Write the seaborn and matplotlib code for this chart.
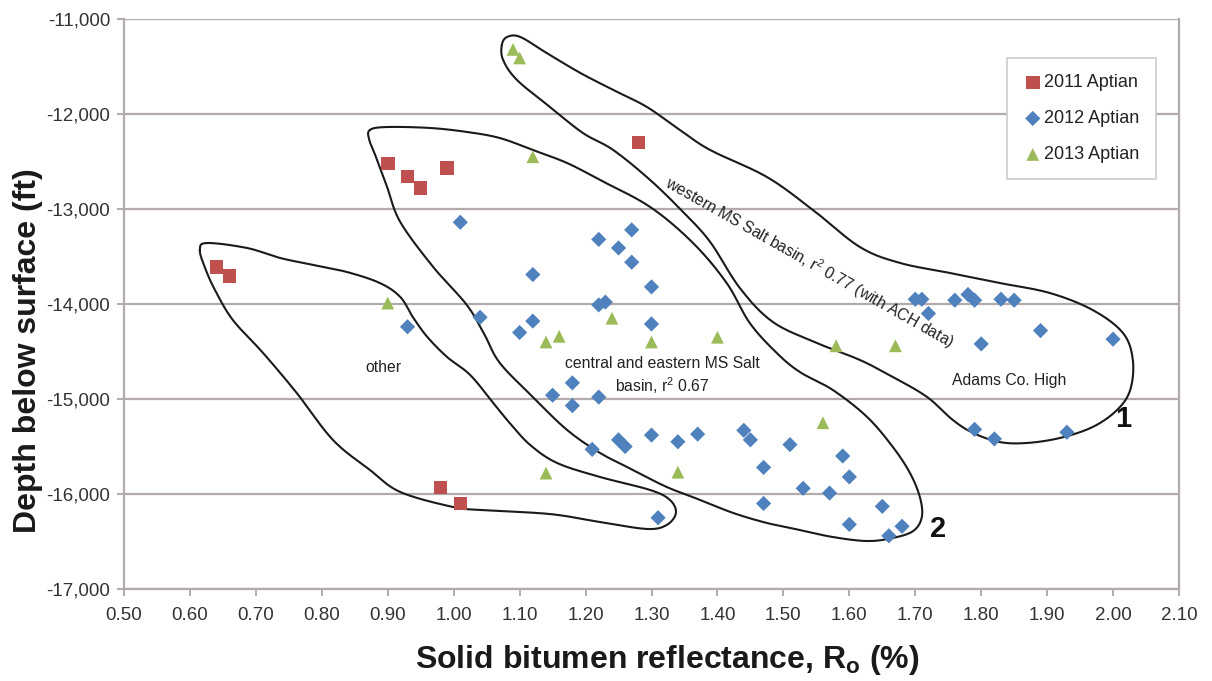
import numpy as np
import pandas as pd
import matplotlib
matplotlib.use("Agg")
import matplotlib.pyplot as plt
import seaborn as sns
from matplotlib.ticker import FuncFormatter, MultipleLocator

sns.set_theme(style="white")
plt.rcParams['font.family'] = ['Liberation Sans', 'DejaVu Sans']

# ---- data ----
r2011 = [0.64, 0.66, 0.90, 0.93, 0.95, 0.99, 1.28, 0.98, 1.01]
d2011 = [-13610, -13705, -12520, -12660, -12780, -12570, -12300, -15930, -16100]

r2012 = [1.01, 1.22, 1.27, 1.25, 1.27, 1.12, 1.30, 1.22, 1.23, 1.04, 0.93, 1.12, 1.10, 1.30,
         1.70, 1.71, 1.76, 1.78, 1.79, 1.83, 1.85, 1.72, 1.89, 1.80, 2.00,
         1.79, 1.82, 1.93, 1.59, 1.60, 1.53, 1.57, 1.65, 1.60, 1.68, 1.66,
         1.15, 1.18, 1.18, 1.22, 1.21, 1.25, 1.26, 1.30, 1.34, 1.37, 1.44, 1.45, 1.47, 1.51, 1.47, 1.31]
d2012 = [-13140, -13320, -13220, -13410, -13560, -13690, -13820, -14010, -13980, -14140, -14240, -14180, -14300, -14210,
         -13950, -13950, -13960, -13900, -13960, -13950, -13960, -14100, -14280, -14420, -14370,
         -15320, -15420, -15350, -15600, -15820, -15940, -15990, -16130, -16320, -16340, -16440,
         -14960, -14830, -15070, -14980, -15530, -15430, -15500, -15380, -15450, -15370, -15330, -15430, -15720, -15480, -16100, -16250]

r2013 = [1.09, 1.10, 1.12, 1.24, 1.14, 1.16, 1.30, 1.40, 0.90, 1.58, 1.67, 1.56, 1.14, 1.34]
d2013 = [-11320, -11410, -12450, -14150, -14400, -14340, -14400, -14350, -13990, -14440, -14440, -15250, -15780, -15770]

series_names = ["2011 Aptian", "2012 Aptian", "2013 Aptian"]
series_colors = ["#C0504D", "#4F81BD", "#9BBB59"]

# hand-drawn group outlines (data coordinates)
other_r = [0.615, 0.626, 0.687, 0.737, 0.787, 0.838, 0.888, 0.919, 0.938, 0.960, 0.990, 1.025, 1.060, 1.085,
           1.116, 1.157, 1.222, 1.298, 1.328, 1.337, 1.323, 1.293, 1.222, 1.146, 1.040, 0.999, 0.919, 0.873,
           0.817, 0.762, 0.711, 0.665, 0.638, 0.623]
other_d = [-13432, -13358, -13411, -13516, -13589, -13663, -13779, -13926, -14137, -14347, -14558, -14747, -15042, -15253,
           -15484, -15674, -15821, -15958, -16063, -16200, -16326, -16368, -16295, -16211, -16168, -16137, -15979, -15747,
           -15432, -14937, -14516, -14168, -13853, -13621]

central_r = [0.873, 0.899, 0.964, 1.020, 1.070, 1.120, 1.172, 1.222, 1.298, 1.363, 1.414, 1.449, 1.490, 1.525,
             1.575, 1.627, 1.666, 1.692, 1.707, 1.710, 1.697, 1.666, 1.627, 1.575, 1.525, 1.475, 1.424, 1.374,
             1.323, 1.272, 1.222, 1.172, 1.120, 1.070, 1.047, 1.020, 0.969, 0.919, 0.899, 0.884, 0.872]
central_d = [-12168, -12137, -12147, -12189, -12253, -12379, -12516, -12695, -12979, -13358, -13779, -14200, -14516, -14716,
             -14905, -15189, -15505, -15779, -16032, -16242, -16389, -16463, -16495, -16453, -16379, -16305, -16200, -16063,
             -15926, -15747, -15568, -15326, -14979, -14621, -14326, -14011, -13611, -13137, -12768, -12484, -12274]

western_r = [1.073, 1.081, 1.101, 1.141, 1.192, 1.242, 1.293, 1.343, 1.389, 1.475, 1.545, 1.616, 1.677, 1.753,
             1.828, 1.904, 1.969, 2.015, 2.030, 2.026, 2.006, 1.969, 1.919, 1.869, 1.828, 1.788, 1.757, 1.718,
             1.666, 1.616, 1.551, 1.484, 1.434, 1.389, 1.348, 1.298, 1.242, 1.196, 1.146, 1.096, 1.075]
western_d = [-11274, -11189, -11189, -11358, -11568, -11747, -11926, -12168, -12379, -12663, -13011, -13400, -13568, -13674,
             -13779, -13884, -14063, -14305, -14589, -14905, -15116, -15295, -15411, -15463, -15453, -15358, -15221, -14979,
             -14768, -14589, -14411, -14189, -13832, -13347, -13032, -12695, -12379, -12200, -11926, -11642, -11432]


def smooth_closed(xs, ys, n=24):
    P = np.column_stack([xs, ys]).astype(float)
    N = len(P)
    t = np.linspace(0, 1, n, endpoint=False)[:, None]
    out = []
    for i in range(N):
        p0, p1, p2, p3 = P[(i - 1) % N], P[i], P[(i + 1) % N], P[(i + 2) % N]
        pts = 0.5 * ((2 * p1) + (-p0 + p2) * t + (2 * p0 - 5 * p1 + 4 * p2 - p3) * t ** 2
                     + (-p0 + 3 * p1 - 3 * p2 + p3) * t ** 3)
        out.append(pts)
    out.append(P[:1])
    return np.vstack(out)


df = pd.concat([
    pd.DataFrame({"R": r2011, "D": d2011, "series": series_names[0]}),
    pd.DataFrame({"R": r2012, "D": d2012, "series": series_names[1]}),
    pd.DataFrame({"R": r2013, "D": d2013, "series": series_names[2]}),
], ignore_index=True)

fig = plt.figure(figsize=(12.12, 6.81), dpi=100)
ax = fig.add_axes([124 / 1212, 1 - 589 / 681, (1179 - 124) / 1212, (589 - 19) / 681])

# outlines
for xs, ys in [(other_r, other_d), (central_r, central_d), (western_r, western_d)]:
    c = smooth_closed(xs, ys)
    ax.plot(c[:, 0], c[:, 1], color="#1a1a1a", lw=1.5, zorder=2)

markers = {"2011 Aptian": "s", "2012 Aptian": "D", "2013 Aptian": "^"}
sizes = {"2011 Aptian": 95, "2012 Aptian": 60, "2013 Aptian": 85}
for name, col in zip(series_names, series_colors):
    sub = df[df["series"] == name]
    sns.scatterplot(data=sub, x="R", y="D", marker=markers[name], s=sizes[name], color=col,
                    edgecolor="none", linewidth=0, ax=ax, label=name, zorder=3)

ax.set_xlim(0.5, 2.1)
ax.set_ylim(-17000, -11000)
ax.xaxis.set_major_locator(MultipleLocator(0.1))
ax.yaxis.set_major_locator(MultipleLocator(1000))
ax.xaxis.set_major_formatter(FuncFormatter(lambda v, p: f"{v:.2f}"))
ax.yaxis.set_major_formatter(FuncFormatter(lambda v, p: f"{v:,.0f}"))

grid_c = "#b3abab"
ax.yaxis.grid(True, color=grid_c, lw=1.6, zorder=0)
ax.xaxis.grid(False)
ax.set_axisbelow(True)
for sp in ["left", "bottom", "right"]:
    ax.spines[sp].set_visible(True)
    ax.spines[sp].set_color(grid_c)
    ax.spines[sp].set_linewidth(1.6)
ax.spines["top"].set_visible(False)

ax.tick_params(axis="both", which="major", direction="out", length=5, width=1.4, color=grid_c,
               labelsize=13.5, labelcolor="#333333", left=True, bottom=True)
ax.tick_params(axis="x", pad=8)
ax.tick_params(axis="y", pad=5)

ax.set_xlabel("Solid bitumen reflectance, R$_\\mathregular{o}$ (%)", fontsize=23, fontweight="bold",
              color="#1a1a1a")
ax.set_ylabel("Depth below surface (ft)", fontsize=23, fontweight="bold", color="#1a1a1a")
ax.xaxis.set_label_coords(0.5147, -0.094)
ax.yaxis.set_label_coords(-0.077, 0.4175)

# annotations
ann = dict(fontsize=11.3, color="#222222")
ax.text(1.540, -13560, "western MS Salt basin, r$^\\mathregular{2}$ 0.77 (with ACH data)", rotation=-29.5,
        rotation_mode="anchor", ha="center", va="center", **ann)
ax.text(1.316, -14760, "central and eastern MS Salt\nbasin, r$^\\mathregular{2}$ 0.67", ha="center", va="center",
        linespacing=1.25, **ann)
ax.text(0.893, -14670, "other", ha="center", va="center", **ann)
ax.text(1.843, -14800, "Adams Co. High", ha="center", va="center", **ann)
ax.text(2.015, -15210, "1", ha="center", va="center", fontsize=21, fontweight="bold", color="#111111")
ax.text(1.735, -16370, "2", ha="center", va="center", fontsize=21, fontweight="bold", color="#111111")

leg = ax.legend(loc="upper right", bbox_to_anchor=(1156 / 1212, 1 - 58 / 681),
                bbox_transform=fig.transFigure, fontsize=13, frameon=True, fancybox=False,
                handletextpad=0.15, borderpad=0.9, labelspacing=1.05, handlelength=1.0,
                borderaxespad=0, edgecolor="#cccccc", framealpha=1)
leg.get_frame().set_linewidth(1.2)
for t in leg.get_texts():
    t.set_color("#222222")

fig.savefig("out.png", dpi=100)
